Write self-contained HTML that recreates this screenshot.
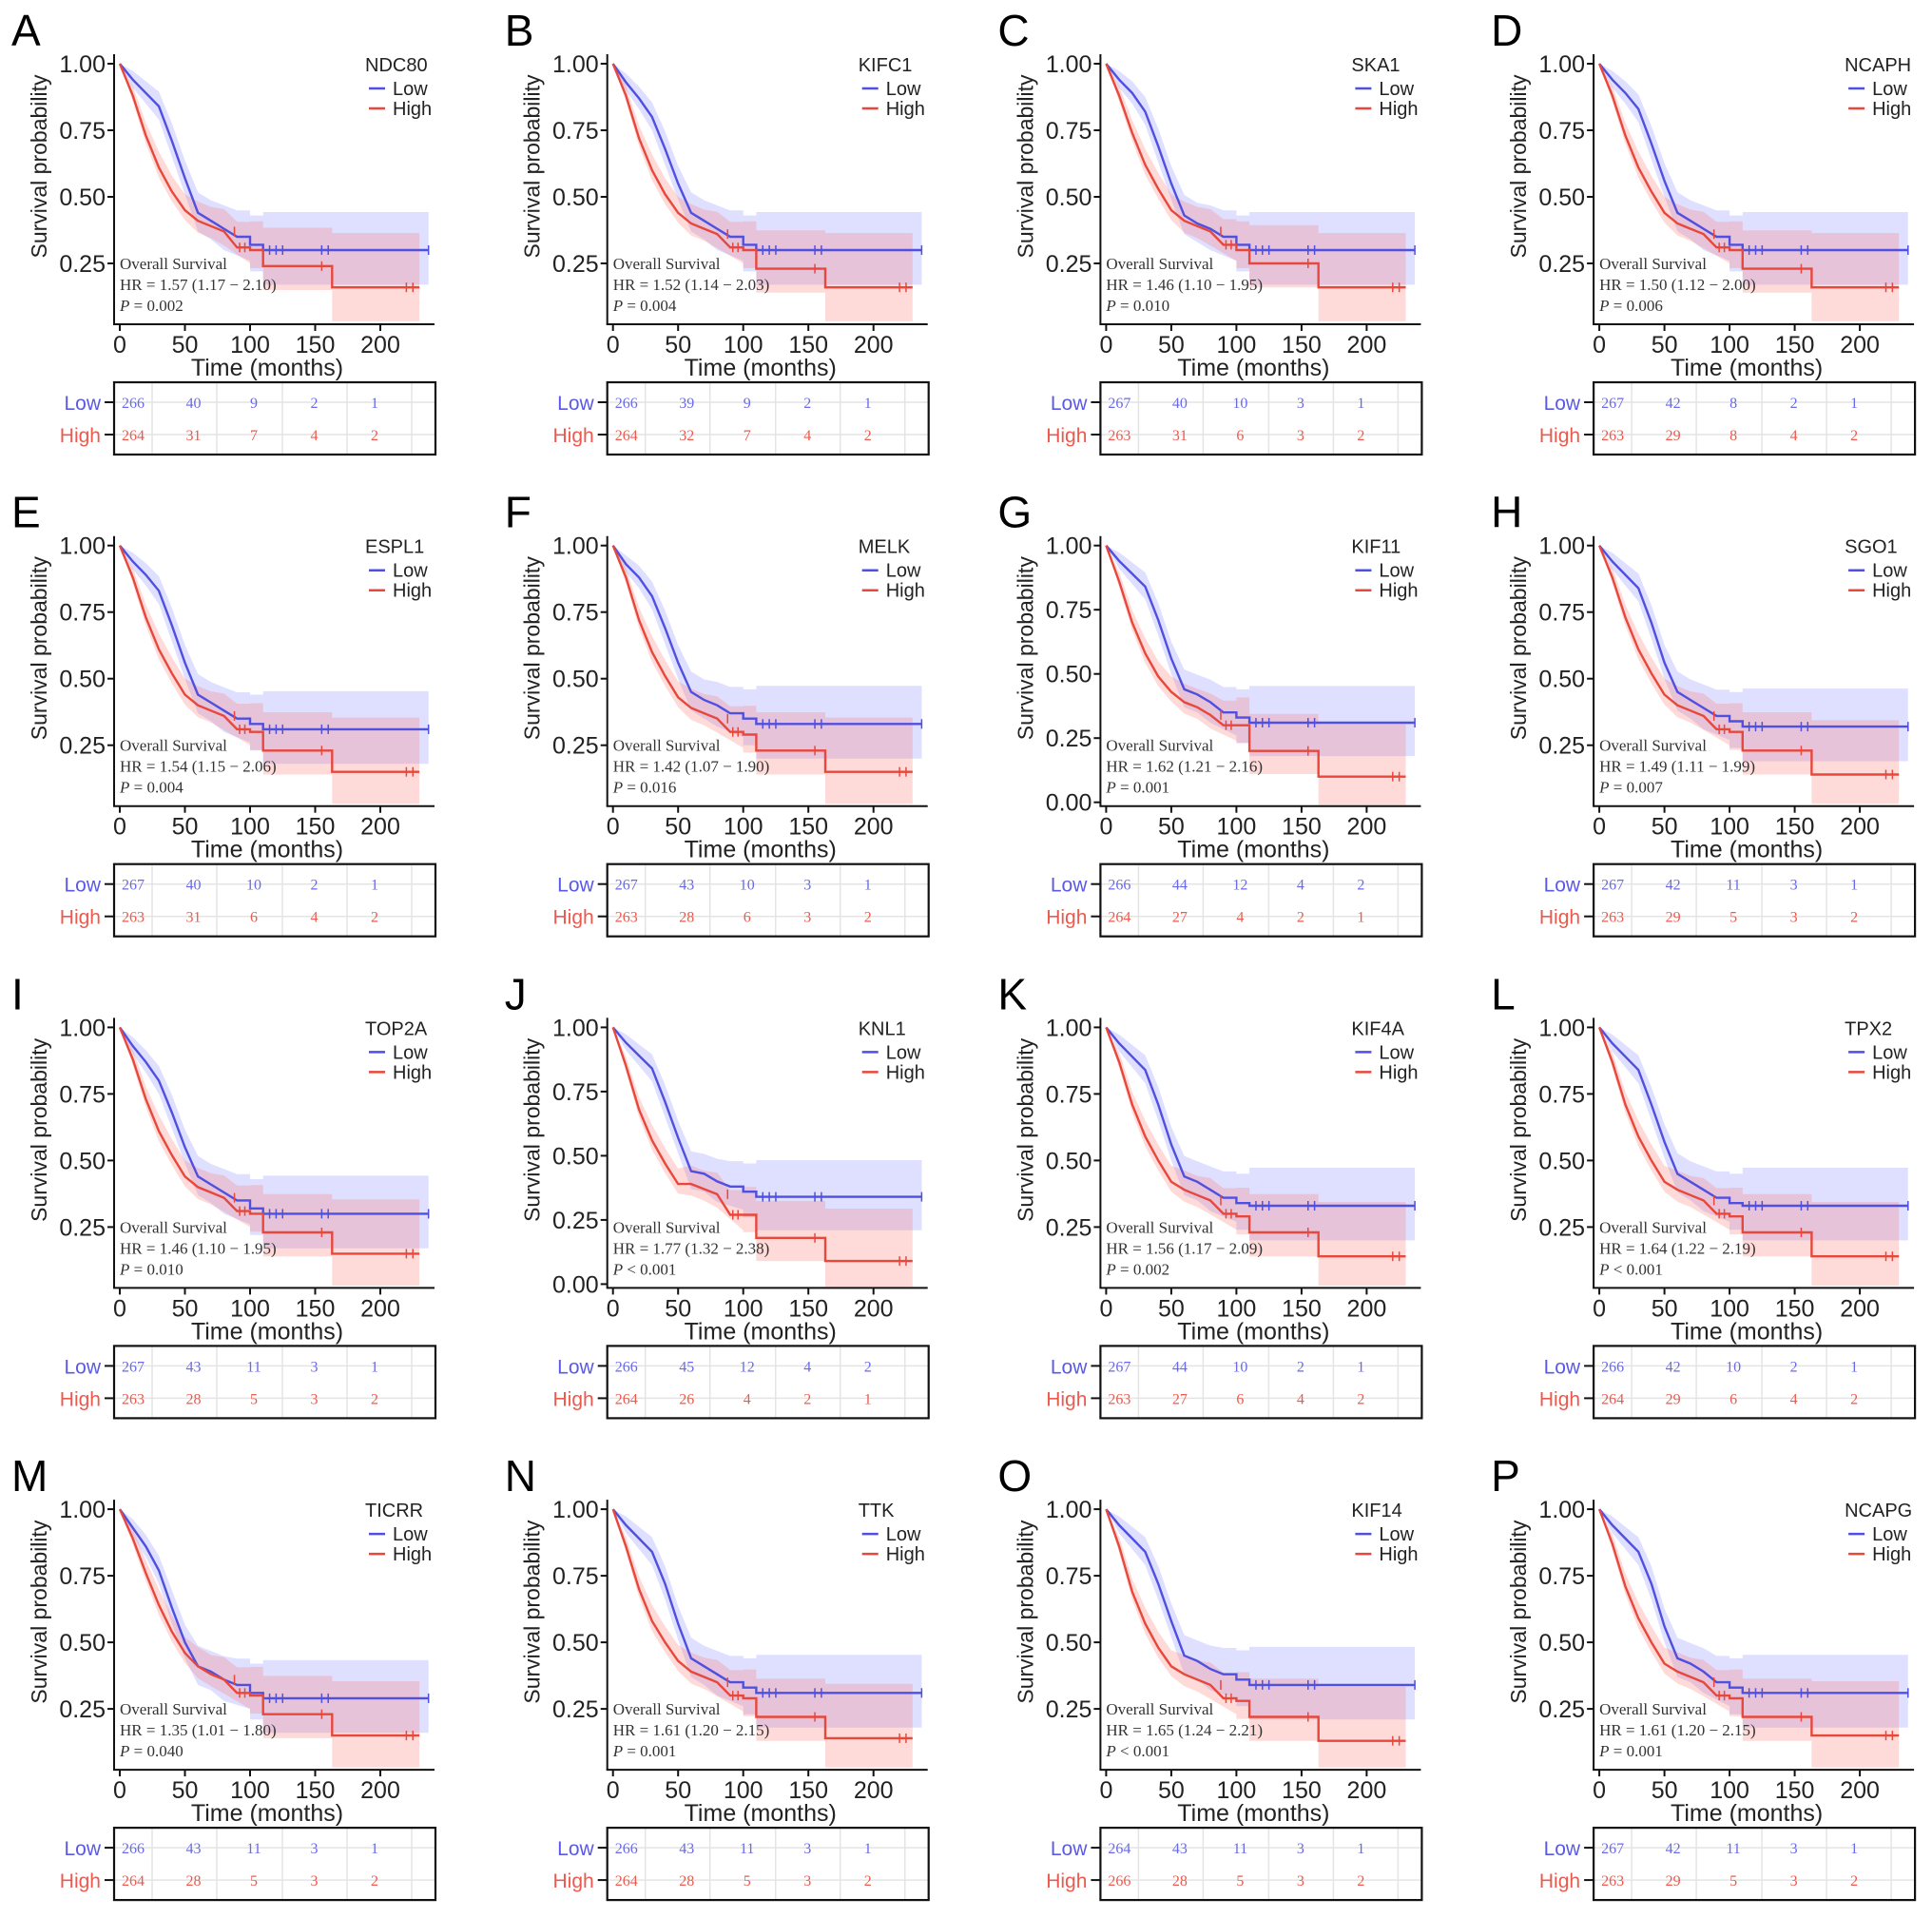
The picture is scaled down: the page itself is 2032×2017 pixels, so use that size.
<!DOCTYPE html>
<html><head><meta charset="utf-8"><style>
html,body{margin:0;padding:0;background:#fff;}
svg{display:block;}
.sans{font-family:"Liberation Sans",Arial,sans-serif;}
.serif{font-family:"Liberation Serif","Times New Roman",serif;}
</style></head><body>
<svg id="fig" width="2032" height="2017" viewBox="0 0 2032 2017" xmlns="http://www.w3.org/2000/svg"></svg>
<script>
const letters = ["A","B","C","D","E","F","G","H","I","J","K","L","M","N","O","P"];
const genes = ["NDC80","KIFC1","SKA1","NCAPH","ESPL1","MELK","KIF11","SGO1","TOP2A","KNL1","KIF4A","TPX2","TICRR","TTK","KIF14","NCAPG"];
const hrText = ["1.57 (1.17 − 2.10)","1.52 (1.14 − 2.03)","1.46 (1.10 − 1.95)","1.50 (1.12 − 2.00)","1.54 (1.15 − 2.06)","1.42 (1.07 − 1.90)","1.62 (1.21 − 2.16)","1.49 (1.11 − 1.99)","1.46 (1.10 − 1.95)","1.77 (1.32 − 2.38)","1.56 (1.17 − 2.09)","1.64 (1.22 − 2.19)","1.35 (1.01 − 1.80)","1.61 (1.20 − 2.15)","1.65 (1.24 − 2.21)","1.61 (1.20 − 2.15)"];
const pText = ["= 0.002","= 0.004","= 0.010","= 0.006","= 0.004","= 0.016","= 0.001","= 0.007","= 0.010","< 0.001","= 0.002","< 0.001","= 0.040","= 0.001","< 0.001","= 0.001"];
const zeroBased = [false,false,false,false,false,false,true,false,false,true,false,false,false,false,false,false];
const riskTimes = [0,50,100,150,200];
const riskLow = [[266,40,9,2,1],[266,39,9,2,1],[267,40,10,3,1],[267,42,8,2,1],[267,40,10,2,1],[267,43,10,3,1],[266,44,12,4,2],[267,42,11,3,1],[267,43,11,3,1],[266,45,12,4,2],[267,44,10,2,1],[266,42,10,2,1],[266,43,11,3,1],[266,43,11,3,1],[264,43,11,3,1],[267,42,11,3,1]];
const riskHigh = [[264,31,7,4,2],[264,32,7,4,2],[263,31,6,3,2],[263,29,8,4,2],[263,31,6,4,2],[263,28,6,3,2],[264,27,4,2,1],[263,29,5,3,2],[263,28,5,3,2],[264,26,4,2,1],[263,27,6,4,2],[264,29,6,4,2],[264,28,5,3,2],[264,28,5,3,2],[266,28,5,3,2],[263,29,5,3,2]];
const stepTimes = [0,10,20,30,40,50,60,70,80,90,100,110,163];
const lowSurv = [
[1,.94,.89,.84,.71,.57,.44,.41,.38,.35,.32,.30,.30],
[1,.93,.87,.80,.68,.55,.44,.41,.38,.35,.32,.30,.30],
[1,.94,.89,.82,.69,.55,.43,.40,.38,.35,.32,.30,.30],
[1,.94,.89,.83,.70,.56,.44,.41,.38,.35,.32,.30,.30],
[1,.94,.89,.83,.70,.56,.44,.41,.38,.35,.33,.31,.31],
[1,.93,.88,.81,.69,.56,.45,.42,.40,.37,.35,.33,.33],
[1,.94,.89,.84,.71,.56,.44,.42,.39,.35,.33,.31,.31],
[1,.94,.89,.84,.71,.56,.45,.42,.39,.36,.34,.32,.32],
[1,.93,.87,.80,.68,.55,.44,.41,.38,.35,.32,.30,.30],
[1,.94,.89,.84,.71,.57,.44,.43,.40,.38,.36,.34,.34],
[1,.94,.89,.84,.71,.56,.44,.42,.39,.36,.34,.33,.33],
[1,.94,.89,.84,.71,.57,.45,.42,.39,.36,.34,.33,.33],
[1,.93,.86,.77,.63,.50,.41,.39,.36,.34,.31,.29,.29],
[1,.94,.89,.84,.72,.57,.44,.41,.38,.35,.33,.31,.31],
[1,.94,.89,.84,.72,.58,.45,.43,.40,.38,.36,.34,.34],
[1,.94,.89,.84,.72,.56,.44,.42,.39,.35,.33,.31,.31]];
const highSurv = [
[1,.88,.73,.61,.52,.45,.41,.39,.37,.31,.30,.24,.16],
[1,.88,.72,.60,.51,.44,.40,.38,.36,.31,.30,.23,.16],
[1,.88,.74,.62,.53,.45,.41,.39,.37,.32,.30,.25,.16],
[1,.88,.73,.61,.52,.44,.40,.38,.36,.31,.30,.23,.16],
[1,.88,.73,.61,.52,.44,.40,.38,.36,.31,.30,.23,.15],
[1,.88,.72,.60,.51,.43,.39,.37,.35,.30,.29,.23,.15],
[1,.86,.70,.58,.49,.43,.39,.37,.34,.30,.30,.20,.10],
[1,.88,.73,.61,.52,.44,.40,.38,.36,.31,.30,.23,.14],
[1,.88,.73,.61,.52,.44,.40,.38,.36,.31,.30,.23,.15],
[1,.85,.68,.56,.47,.39,.39,.37,.35,.27,.27,.18,.09],
[1,.87,.71,.59,.50,.42,.39,.37,.35,.30,.29,.23,.14],
[1,.87,.71,.59,.50,.42,.39,.37,.35,.30,.29,.23,.14],
[1,.89,.76,.64,.54,.46,.41,.38,.36,.31,.30,.23,.15],
[1,.86,.70,.58,.50,.43,.39,.37,.35,.30,.29,.22,.14],
[1,.86,.69,.57,.48,.41,.38,.36,.34,.29,.28,.22,.13],
[1,.87,.71,.59,.50,.42,.39,.37,.35,.30,.29,.22,.15]];
const lowCiHalf = [0,.03,.04,.05,.06,.06,.07,.07,.08,.09,.10,.13,.13];
const highCiHalf = [0,.03,.04,.05,.05,.05,.06,.06,.07,.08,.09,.12,.17];
const lowEnd = 237;
const highEnd = 230;
const lowCensor = [115,120,125,155,160,237];
const highCensor = [88,92,96,155,220,225];

const NS = "http://www.w3.org/2000/svg";
const svg = document.getElementById("fig");
const BLUE = "#4f4fe0", RED = "#e8473b";
const SMOOTH_UNTIL = 9; // index up to which dense KM steps are drawn as diagonal
function mk(tag, attrs, parent, text){
  const e = document.createElementNS(NS, tag);
  for (const k in attrs) e.setAttribute(k, attrs[k]);
  if (text !== undefined) e.textContent = text;
  parent.appendChild(e);
  return e;
}
function f(v){ return v.toFixed(1); }
function fwd(xs, ys){
  let d = "";
  for (let k = 1; k < xs.length; k++){
    if (k <= SMOOTH_UNTIL) d += "L" + f(xs[k]) + "," + f(ys[k]);
    else d += "H" + f(xs[k]) + "V" + f(ys[k]);
  }
  return d;
}
function stepPath(xs, ys, xEnd){
  return "M" + f(xs[0]) + "," + f(ys[0]) + fwd(xs, ys) + "H" + f(xEnd);
}
function ciPath(xs, up, lo, xEnd){
  let d = "M" + f(xs[0]) + "," + f(up[0]) + fwd(xs, up);
  d += "H" + f(xEnd) + "V" + f(lo[lo.length-1]);
  for (let k = xs.length - 1; k >= 1; k--){
    if (k <= SMOOTH_UNTIL) d += "L" + f(xs[k-1]) + "," + f(lo[k-1]);
    else d += "H" + f(xs[k]) + "V" + f(lo[k-1]);
  }
  d += "Z";
  return d;
}

for (let i = 0; i < 16; i++){
  const ox = (i % 4) * 518.7, oy = Math.floor(i / 4) * 506.7;
  const g = mk("g", {transform: "translate(" + ox.toFixed(1) + "," + oy.toFixed(1) + ")"}, svg);
  
  
  const zb = zeroBased[i];
  const yTop = 67, pxPer = zb ? 270 : 280, yMin = zb ? -0.01 : 0.03;
  const sx = t => 126 + t * 1.37;
  const sy = v => yTop + (1 - Math.max(v, yMin)) * pxPer;
  const tx = t => 140 + t * 1.27;

  const lt = mk("text", {x: 12, y: 48, "font-size": 46, class: "sans", fill: "#000"}, g, letters[i]);
  
  

  const xs = stepTimes.map(sx);
  const lowS = lowSurv[i], highS = highSurv[i];
  const ciL = mk("path", {d: ciPath(xs, lowS.map((v,k)=>sy(Math.min(1, v + lowCiHalf[k]*1.1))), lowS.map((v,k)=>sy(v - lowCiHalf[k])), sx(lowEnd)), fill: "rgba(110,110,255,0.22)"}, g);
  
  
  const ciH = mk("path", {d: ciPath(xs, highS.map((v,k)=>sy(Math.min(1, v + highCiHalf[k]*1.2))), highS.map((v,k)=>sy(v - highCiHalf[k]*0.75)), sx(highEnd)), fill: "rgba(250,110,100,0.25)"}, g);
  
  

  const pl = mk("path", {d: stepPath(xs, lowS.map(sy), sx(lowEnd)), fill: "none", stroke: BLUE, "stroke-width": 2.4}, g);
  
  
  const ph = mk("path", {d: stepPath(xs, highS.map(sy), sx(highEnd)), fill: "none", stroke: RED, "stroke-width": 2.4}, g);
  
  
  lowCensor.forEach(t => {
    const c = mk("line", {x1: sx(t), x2: sx(t), y1: sy(lowS[lowS.length-1]) - 5, y2: sy(lowS[lowS.length-1]) + 5, stroke: BLUE, "stroke-width": 1.5}, g);
    
    
  });
  highCensor.forEach(t => {
    let k = 0; while (k + 1 < stepTimes.length && stepTimes[k+1] <= t) k++;
    const yy = sy(highS[k]);
    const c = mk("line", {x1: sx(t), x2: sx(t), y1: yy - 5, y2: yy + 5, stroke: RED, "stroke-width": 1.5}, g);
    
    
  });

  const ya = mk("line", {x1: 120, x2: 120, y1: 57, y2: 341, stroke: "#111", "stroke-width": 2}, g);
  
  
  const xa = mk("line", {x1: 119, x2: 457, y1: 341, y2: 341, stroke: "#111", "stroke-width": 2}, g);
  
  
  const yt = zb ? [0,0.25,0.5,0.75,1] : [0.25,0.5,0.75,1];
  yt.forEach(v => {
    mk("line", {x1: 113, x2: 120, y1: sy(v), y2: sy(v), stroke: "#111", "stroke-width": 2}, g);
    const t = mk("text", {x: 111, y: sy(v) + 9, "text-anchor": "end", "font-size": 25, class: "sans", fill: "#222"}, g, v.toFixed(2));
    
    
  });
  [0,50,100,150,200].forEach(v => {
    mk("line", {x1: sx(v), x2: sx(v), y1: 341, y2: 348, stroke: "#111", "stroke-width": 2}, g);
    const t = mk("text", {x: sx(v), y: 371, "text-anchor": "middle", "font-size": 25, class: "sans", fill: "#222"}, g, String(v));
    
    
  });
  const yl = mk("text", {x: 0, y: 0, transform: "translate(49,175) rotate(-90)", "text-anchor": "middle", "font-size": 23, class: "sans", fill: "#222"}, g, "Survival probability");
  
  
  const xl = mk("text", {x: 281, y: 395, "text-anchor": "middle", "font-size": 25, class: "sans", fill: "#222"}, g, "Time (months)");
  
  

  const lgT = mk("text", {x: 384, y: 75, "font-size": 20, class: "sans", fill: "#222"}, g, genes[i]);
  
  
  mk("line", {x1: 388, x2: 405, y1: 93, y2: 93, stroke: BLUE, "stroke-width": 2.5}, g);
  const lgL = mk("text", {x: 413, y: 100, "font-size": 20, class: "sans", fill: "#222"}, g, "Low");
  
  
  mk("line", {x1: 388, x2: 405, y1: 114, y2: 114, stroke: RED, "stroke-width": 2.5}, g);
  const lgH = mk("text", {x: 413, y: 121, "font-size": 20, class: "sans", fill: "#222"}, g, "High");
  
  

  const an = mk("g", {class: "serif", "font-size": 17, fill: "#333"}, g);
  
  
  mk("text", {x: 126, y: 283}, an, "Overall  Survival");
  mk("text", {x: 126, y: 305}, an, "HR = " + hrText[i]);
  const pt = mk("text", {x: 126, y: 327}, an);
  mk("tspan", {"font-style": "italic"}, pt, "P");
  mk("tspan", {}, pt, " " + pText[i]);

  const tb = mk("g", {}, g);
  
  
  [160,228,297,365,433].forEach(x => mk("line", {x1: x, x2: x, y1: 403, y2: 477, stroke: "#e4e4e4", "stroke-width": 1.5}, tb));
  [423,457].forEach(y => mk("line", {x1: 121, x2: 457, y1: y, y2: y, stroke: "#e4e4e4", "stroke-width": 1.5}, tb));
  mk("rect", {x: 120, y: 402, width: 338, height: 76, fill: "none", stroke: "#111", "stroke-width": 2.2}, tb);
  mk("line", {x1: 110, x2: 120, y1: 423, y2: 423, stroke: "#111", "stroke-width": 2}, tb);
  mk("line", {x1: 110, x2: 120, y1: 457, y2: 457, stroke: "#111", "stroke-width": 2}, tb);
  const rl = mk("text", {x: 106, y: 431, "text-anchor": "end", "font-size": 21, class: "sans", fill: "#5a5ae6"}, tb, "Low");
  
  
  const rh = mk("text", {x: 106, y: 465, "text-anchor": "end", "font-size": 21, class: "sans", fill: "#ec5a4e"}, tb, "High");
  
  
  riskTimes.forEach((t, k) => {
    const a = mk("text", {x: tx(t), y: 429, "text-anchor": "middle", "font-size": 16, class: "serif", fill: "#6a6ae8"}, tb, String(riskLow[i][k]));
    
    
    const b = mk("text", {x: tx(t), y: 463, "text-anchor": "middle", "font-size": 16, class: "serif", fill: "#ec5a4e"}, tb, String(riskHigh[i][k]));
    
    
  });
}
</script>
</body></html>
